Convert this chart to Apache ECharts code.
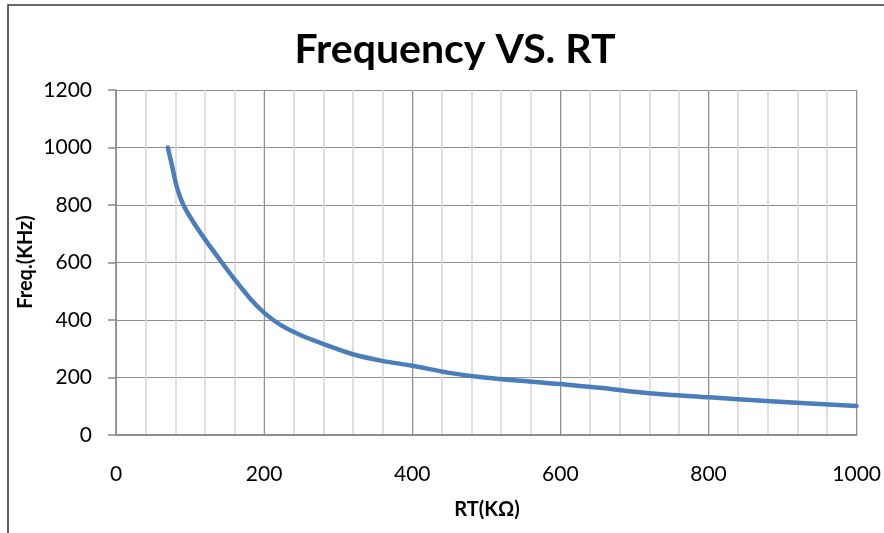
<!DOCTYPE html>
<html>
<head>
<meta charset="utf-8">
<script src="https://cdn.jsdelivr.net/npm/echarts@6/dist/echarts.min.js"></script>
<style>
html,body{margin:0;padding:0;background:#fff;}
#chart{width:884px;height:533px;}
</style>
</head>
<body>
<div id="chart"></div>
<script>
var titleText = 'Frequency VS. RT';
var xAxisName = 'RT(KΩ)';
var yAxisName = 'Freq.(KHz)';
var rtValues = [70, 76, 82, 91, 105, 123, 141, 159, 181, 201, 222, 249, 284, 321, 361, 400, 450, 500, 600, 653, 720, 801, 878, 1000];
var freqValues = [1000, 933, 864, 800, 738, 670, 607, 545, 475, 423, 383, 348, 313, 280, 257, 241, 216, 199, 177, 164, 145, 131, 118, 101];
var xTickLabels = [0, 200, 400, 600, 800, 1000];
var yTickLabels = [0, 200, 400, 600, 800, 1000, 1200];

var points = rtValues.map(function (x, i) { return [x, freqValues[i]]; });
var FONT = 'Lato, "Open Sans", sans-serif';

var chart = echarts.init(document.getElementById('chart'), null, {renderer: 'canvas'});
chart.setOption({
  animation: false,
  backgroundColor: '#ffffff',
  grid: {left: 116, right: 26, top: 90, bottom: 98, containLabel: false},
  graphic: [
    {type: 'rect', silent: true, z: 0,
     shape: {x: 8, y: 5, width: 900, height: 560},
     style: {fill: 'none', stroke: '#3a3a3a', lineWidth: 1.6}},
    {type: 'text', silent: true, z: 10, x: 455, y: 50,
     style: {text: titleText, align: 'center', verticalAlign: 'middle',
             font: 'bold 41px ' + FONT, fill: '#000'}},
    {type: 'text', silent: true, z: 10, x: 26, y: 262, rotation: Math.PI / 2,
     style: {text: yAxisName, align: 'center', verticalAlign: 'middle',
             font: 'bold 20px ' + FONT, fill: '#000'}},
    {type: 'text', silent: true, z: 10, x: 487, y: 510,
     style: {text: xAxisName, align: 'center', verticalAlign: 'middle',
             font: 'bold 20px ' + FONT, fill: '#000'}}
  ],
  xAxis: [
    {type: 'value', position: 'bottom', offset: 0, min: 0, max: 1000, interval: 40,
     axisLine: {show: true, onZero: false, lineStyle: {color: '#8a8a8a', width: 1.5}},
     axisTick: {show: false},
     axisLabel: {show: false},
     splitLine: {show: true, lineStyle: {color: '#d4d4d4', width: 1.5}}},
    {type: 'value', position: 'bottom', offset: 0, min: 0, max: 1000, interval: 200,
     axisLine: {show: true, onZero: false, lineStyle: {color: '#8a8a8a', width: 1.5}},
     axisTick: {show: false},
     axisLabel: {show: true, margin: 29, color: '#000', fontFamily: FONT, fontSize: 21,
       formatter: function (v) { return xTickLabels.indexOf(v) >= 0 ? String(v) : ''; }},
     splitLine: {show: true, lineStyle: {color: '#8f8f8f', width: 1}}}
  ],
  yAxis: [
    {type: 'value', min: 0, max: 1200, interval: 200,
     axisLine: {show: true, onZero: false, lineStyle: {color: '#8a8a8a', width: 1.5}},
     axisTick: {show: true, inside: false, length: 8, lineStyle: {color: '#8a8a8a', width: 1.5}},
     axisLabel: {show: true, margin: 24, color: '#000', fontFamily: FONT, fontSize: 21,
       formatter: function (v) { return yTickLabels.indexOf(v) >= 0 ? String(v) : ''; }},
     splitLine: {show: true, lineStyle: {color: '#8f8f8f', width: 1}}}
  ],
  series: [
    {type: 'line', xAxisIndex: 1, yAxisIndex: 0, data: points,
     smooth: 0.3, showSymbol: false, symbol: 'none',
     lineStyle: {color: '#4a7ebb', width: 4.5, cap: 'round', join: 'round'},
     z: 5}
  ]
});
</script>
</body>
</html>
